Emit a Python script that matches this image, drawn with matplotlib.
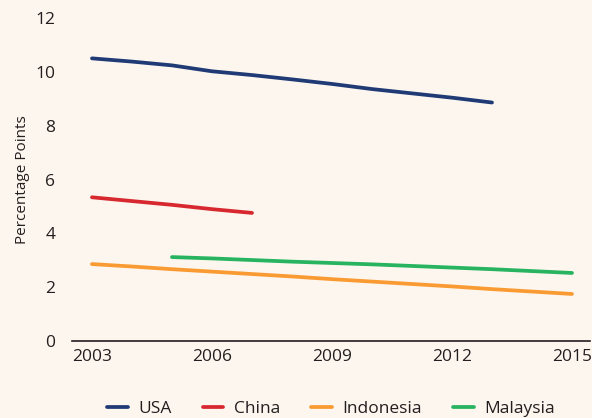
import matplotlib
matplotlib.use("Agg")
import matplotlib.pyplot as plt

BG = "#fdf6ee"

usa_years = list(range(2003, 2014))
usa_vals = [10.5, 10.38, 10.24, 10.02, 9.88, 9.72, 9.55, 9.36, 9.2, 9.04, 8.86]

china_years = list(range(2003, 2008))
china_vals = [5.34, 5.2, 5.06, 4.9, 4.76]

indo_years = list(range(2003, 2016))
indo_vals = [2.86, 2.77, 2.67, 2.58, 2.49, 2.4, 2.3, 2.21, 2.12, 2.03, 1.93, 1.84, 1.75]

malay_years = list(range(2005, 2016))
malay_vals = [3.12, 3.07, 3.01, 2.95, 2.9, 2.85, 2.79, 2.73, 2.67, 2.6, 2.53]

series = [("USA", usa_years, usa_vals, "#1f3a75"),
          ("China", china_years, china_vals, "#d7282f"),
          ("Indonesia", indo_years, indo_vals, "#f99b32"),
          ("Malaysia", malay_years, malay_vals, "#27b35f")]

xticks = [2003, 2006, 2009, 2012, 2015]
yticks = [0, 2, 4, 6, 8, 10, 12]

plt.rcParams["font.family"] = ["Open Sans", "DejaVu Sans"]

fig = plt.figure(figsize=(5.92, 4.18), dpi=100, facecolor=BG)
ax = fig.add_axes([0.1216, 0.184, 0.875, 0.773])
ax.set_facecolor(BG)

for name, xs, ys, c in series:
    ax.plot(xs, ys, color=c, lw=2.7, solid_capstyle="round", label=name)

ax.set_xlim(2002.5, 2015.45)
ax.set_ylim(0, 12)
ax.set_xticks(xticks)
ax.set_yticks(yticks)
ax.tick_params(length=0, labelsize=12.5, colors="#231f20", pad=6)
ax.tick_params(axis="y", pad=12)
for s in ("top", "right", "left"):
    ax.spines[s].set_visible(False)
ax.spines["bottom"].set_color("#231f20")
ax.spines["bottom"].set_linewidth(1.2)
ax.set_ylabel("Percentage Points", fontsize=11, color="#231f20", labelpad=4)

ax.legend(loc="upper center", bbox_to_anchor=(0.5, -0.165), ncol=4, frameon=False,
          fontsize=12.5, handlelength=1.2, columnspacing=1.8, handletextpad=0.6,
          labelcolor="#231f20", borderaxespad=0)

fig.savefig("out.png", dpi=100, facecolor=BG)
